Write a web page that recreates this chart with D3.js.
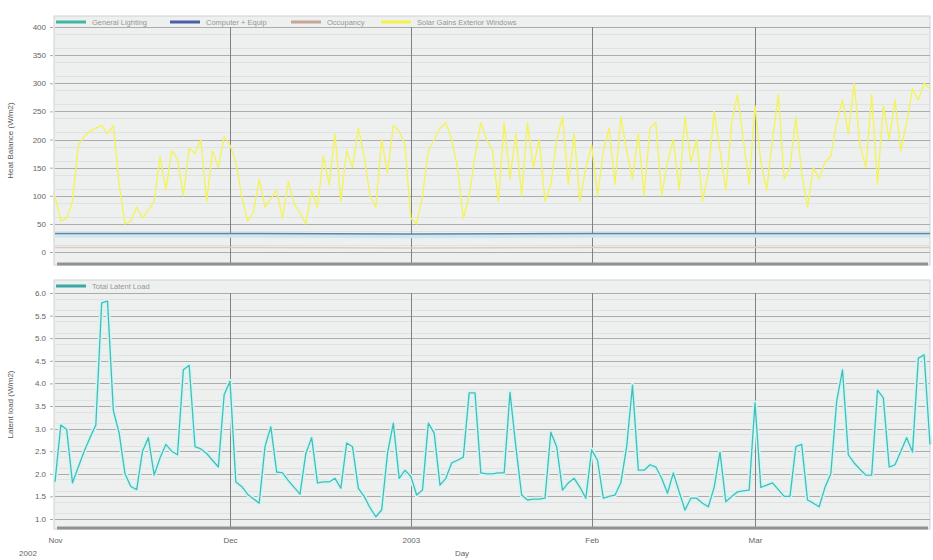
<!DOCTYPE html>
<html>
<head>
<meta charset="utf-8">
<script src="https://cdn.jsdelivr.net/npm/d3@7"></script>
<style>
  body { margin: 0; background: #fff; }
  text { font-family: "Liberation Sans", Arial, sans-serif; }
</style>
</head>
<body>
<script>

/******** Data *********/

// one value per day, Nov 1 2002 .. Mar 31 2003
var days = d3.timeDay.range(new Date(2002, 10, 1), new Date(2003, 3, 1));

var solarGains = [
  100, 55, 60, 90, 190, 205, 215, 220, 225, 210, 225, 120, 50, 55, 80, 60, 75, 90, 170, 110,
  180, 165, 100, 185, 175, 200, 90, 180, 150, 205, 190, 160, 100, 55, 70, 130, 80, 95, 110, 60,
  125, 85, 70, 50, 110, 80, 170, 120, 210, 90, 180, 150, 220, 170, 100, 80, 200, 140, 225, 215,
  190, 60, 50, 100, 180, 200, 220, 230, 200, 150, 60, 100, 170, 230, 200, 180, 90, 230, 130, 210,
  100, 230, 150, 200, 90, 120, 200, 240, 120, 210, 90, 150, 190, 100, 180, 220, 120, 240, 180, 130,
  210, 100, 220, 230, 100, 160, 200, 110, 240, 160, 200, 90, 140, 250, 180, 110, 230, 280, 200, 120,
  260, 160, 110, 200, 280, 130, 150, 240, 140, 80, 150, 130, 160, 170, 230, 270, 210, 300, 190, 150,
  280, 120, 260, 200, 270, 180, 230, 290, 270, 300, 290
];

// near-flat series: read at a few days (index into days)
var flatDays      = [0, 30, 61, 92, 120, 150];
var computerEquip = [33, 33, 32, 33, 33, 33];
var lighting      = [29, 29, 28, 29, 29, 29];
var occupancy     = [8, 8, 7, 8, 8, 8];

var latentLoad = [
  1.82, 3.08, 2.98, 1.8, 2.15, 2.5, 2.8, 3.08, 5.78, 5.82, 3.4, 2.9, 2.0, 1.72, 1.65, 2.5, 2.8, 1.97, 2.35, 2.65,
  2.5, 2.42, 4.3, 4.4, 2.6, 2.55, 2.45, 2.3, 2.15, 3.75, 4.05, 1.82, 1.72, 1.55, 1.45, 1.35, 2.6, 3.04, 2.04, 2.02,
  1.85, 1.7, 1.55, 2.45, 2.8, 1.8, 1.82, 1.82, 1.9, 1.68, 2.68, 2.6, 1.68, 1.5, 1.25, 1.05, 1.2, 2.45, 3.12, 1.9,
  2.08, 1.94, 1.53, 1.64, 3.12, 2.9, 1.75, 1.9, 2.24, 2.3, 2.37, 3.79, 3.79, 2.02, 2.0, 2.0, 2.02, 2.02, 3.8, 2.6,
  1.53, 1.42, 1.44, 1.44, 1.46, 2.92, 2.6, 1.64, 1.8, 1.9, 1.7, 1.46, 2.53, 2.3, 1.46, 1.5, 1.53, 1.8, 2.6, 3.96,
  2.08, 2.08, 2.2, 2.15, 1.9, 1.57, 2.02, 1.6, 1.2, 1.46, 1.46, 1.35, 1.27, 1.7, 2.48, 1.38, 1.5, 1.6, 1.62, 1.64,
  3.57, 1.7, 1.75, 1.8, 1.65, 1.5, 1.5, 2.6, 2.65, 1.42, 1.35, 1.27, 1.7, 2.0, 3.6, 4.3, 2.42, 2.24, 2.1, 1.97,
  1.97, 3.85, 3.68, 2.15, 2.2, 2.5, 2.8, 2.48, 4.56, 4.63, 2.65
];

var topTicks = [0, 50, 100, 150, 200, 250, 300, 350, 400];
var botTicks = [1.0, 1.5, 2.0, 2.5, 3.0, 3.5, 4.0, 4.5, 5.0, 5.5, 6.0];

var topLegend = ["General Lighting", "Computer + Equip", "Occupancy", "Solar Gains Exterior Windows"];
var botLegend = ["Total Latent Load"];

/******** Setup *********/

var W = 933, H = 560;
var left = 54, right = 930;

var svg = d3.select("body").append("svg")
  .attr("width", W)
  .attr("height", H);

svg.append("rect").attr("width", W).attr("height", H).attr("fill", "#fff");

var x = d3.scaleTime()
  .domain([days[0], days[days.length - 1]])
  .range([55, right]);

var yTop = d3.scaleLinear().domain([0, 400]).range([252, 27]);
var yBot = d3.scaleLinear().domain([1, 6]).range([519, 293]);

var months = [new Date(2002, 11, 1), new Date(2003, 0, 1), new Date(2003, 1, 1), new Date(2003, 2, 1)];

/******** Panel frame, grid, axis *********/

function drawPanel(top, bottom, y, ticks, minorStep, fmt, title) {
  var g = svg.append("g");

  g.append("rect")
    .attr("x", left).attr("y", top)
    .attr("width", right - left).attr("height", bottom - top)
    .attr("fill", "#eef0f0")
    .attr("stroke", "#d0d2d2");

  // minor grid
  var lo = y.domain()[0], hi = y.domain()[1];
  var minor = d3.range(lo + minorStep / 2, hi, minorStep);
  g.selectAll("line.minor").data(minor).enter().append("line")
    .attr("x1", left + 1).attr("x2", right)
    .attr("y1", function(d) { return Math.round(y(d)) + 0.5; })
    .attr("y2", function(d) { return Math.round(y(d)) + 0.5; })
    .attr("stroke", "#e0e2e2");

  // major grid
  g.selectAll("line.major").data(ticks).enter().append("line")
    .attr("x1", left + 1).attr("x2", right)
    .attr("y1", function(d) { return Math.round(y(d)) + 0.5; })
    .attr("y2", function(d) { return Math.round(y(d)) + 0.5; })
    .attr("stroke", "#abadad")
    .attr("stroke-width", 1.2);

  // month lines
  g.selectAll("line.month").data(months).enter().append("line")
    .attr("x1", function(d) { return Math.round(x(d)) + 0.5; })
    .attr("x2", function(d) { return Math.round(x(d)) + 0.5; })
    .attr("y1", y(hi) ).attr("y2", bottom)
    .attr("stroke", "#808282");

  // thick base
  g.append("line")
    .attr("x1", 57).attr("x2", right - 2)
    .attr("y1", bottom - 1).attr("y2", bottom - 1)
    .attr("stroke", "#909292")
    .attr("stroke-width", 3);

  var axis = d3.axisLeft(y)
    .tickValues(ticks)
    .tickSize(3)
    .tickPadding(4)
    .tickFormat(d3.format(fmt));

  var ag = svg.append("g")
    .attr("transform", "translate(" + (left - 1) + ",0)")
    .call(axis);
  ag.select(".domain").remove();
  ag.selectAll("line").attr("stroke", "#aaa");
  ag.selectAll("text")
    .attr("fill", "#666")
    .attr("font-size", "8px");

  svg.append("text")
    .attr("transform", "translate(13," + ((top + bottom) / 2) + ") rotate(-90)")
    .attr("text-anchor", "middle")
    .attr("font-size", "8px")
    .attr("fill", "#555")
    .text(title);
}

function drawLegend(top, names, colors, starts) {
  var lg = svg.append("g");
  names.forEach(function(name, i) {
    lg.append("line")
      .attr("x1", starts[i]).attr("x2", starts[i] + 30)
      .attr("y1", top + 6).attr("y2", top + 6)
      .attr("stroke", colors[i])
      .attr("stroke-width", 3);
    lg.append("text")
      .attr("x", starts[i] + 36)
      .attr("y", top + 9)
      .attr("font-size", "7.5px")
      .attr("fill", "#959797")
      .text(name);
  });
}

/******** Top panel *********/

drawPanel(16, 265, yTop, topTicks, 25, "d", "Heat Balance (W/m2)");

var topColors = ["#3fb7a3", "#4a5fa8", "#c9a593", "#f2f24a"];

var lineTop = d3.line()
  .x(function(d) { return x(d[0]); })
  .y(function(d) { return yTop(d[1]); });

function flatPts(vals) {
  return flatDays.map(function(di, i) { return [days[di], vals[i]]; });
}

svg.append("path")
  .attr("d", lineTop(flatPts(occupancy)))
  .attr("fill", "none").attr("stroke", "#e2c9c0").attr("stroke-width", 1.5);

svg.append("path")
  .attr("d", lineTop(flatPts(lighting)))
  .attr("fill", "none").attr("stroke", "#cde9ef").attr("stroke-width", 4);

svg.append("path")
  .attr("d", lineTop(flatPts(computerEquip)))
  .attr("fill", "none").attr("stroke", "#5b86a8").attr("stroke-width", 1.5);

svg.append("path")
  .attr("d", lineTop(days.map(function(d, i) { return [d, solarGains[i]]; })))
  .attr("fill", "none")
  .attr("stroke", "#f3f35e")
  .attr("stroke-width", 1.4)
  .attr("stroke-linejoin", "round");

drawLegend(16, topLegend, topColors, [56, 170, 291, 381]);

/******** Bottom panel *********/

drawPanel(280, 529, yBot, botTicks, 0.25, ".1f", "Latent load (W/m2)");

var lineBot = d3.line()
  .x(function(d, i) { return x(days[i]); })
  .y(function(d) { return yBot(d); });

svg.append("path")
  .attr("d", lineBot(latentLoad))
  .attr("fill", "none")
  .attr("stroke", "#d4f4f4")
  .attr("stroke-width", 4.5)
  .attr("stroke-linejoin", "round");

svg.append("path")
  .attr("d", lineBot(latentLoad))
  .attr("fill", "none")
  .attr("stroke", "#44bdb6")
  .attr("stroke-width", 1.3)
  .attr("stroke-linejoin", "round");

drawLegend(280, botLegend, ["#3aa9a8"], [56]);

/******** X axis *********/

var fmtMonth = d3.timeFormat("%b");
var xAxis = d3.axisBottom(x)
  .tickValues([days[0]].concat(months))
  .tickSize(0)
  .tickFormat(function(d) { return d.getMonth() === 0 ? d3.timeFormat("%Y")(d) : fmtMonth(d); });

var xg = svg.append("g")
  .attr("transform", "translate(0,534)")
  .call(xAxis);
xg.select(".domain").remove();
xg.selectAll("text").attr("fill", "#666").attr("font-size", "8px");

svg.append("text")
  .attr("x", 28).attr("y", 556)
  .attr("text-anchor", "middle")
  .attr("font-size", "8px").attr("fill", "#666")
  .text("2002");

svg.append("text")
  .attr("x", 462).attr("y", 556)
  .attr("text-anchor", "middle")
  .attr("font-size", "8px").attr("fill", "#666")
  .text("Day");

</script>
</body>
</html>
